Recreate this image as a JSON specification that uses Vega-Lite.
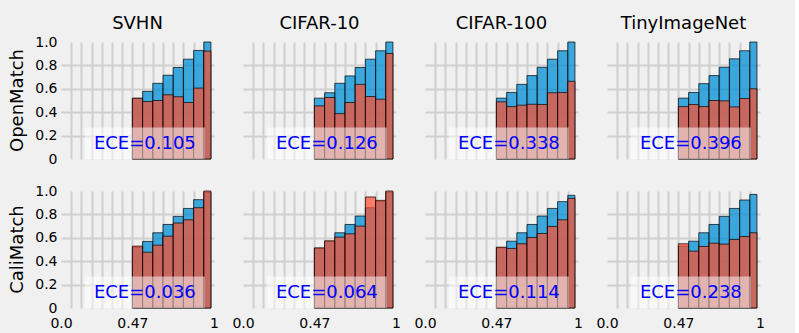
{
  "$schema": "https://vega.github.io/schema/vega-lite/v6.json",
  "background": "#f0f0f0",
  "padding": {"left": 8, "top": 15, "right": 30, "bottom": 3},
  "data": {"values": [
    {"method": "OpenMatch", "dataset": "SVHN", "x0": 0.4667, "x1": 0.5333, "conf": 0.518, "acc": 0.52, "ece": "ECE=0.105"},
    {"method": "OpenMatch", "dataset": "SVHN", "x0": 0.5333, "x1": 0.6, "conf": 0.578, "acc": 0.491},
    {"method": "OpenMatch", "dataset": "SVHN", "x0": 0.6, "x1": 0.6667, "conf": 0.647, "acc": 0.5},
    {"method": "OpenMatch", "dataset": "SVHN", "x0": 0.6667, "x1": 0.7333, "conf": 0.716, "acc": 0.549},
    {"method": "OpenMatch", "dataset": "SVHN", "x0": 0.7333, "x1": 0.8, "conf": 0.782, "acc": 0.532},
    {"method": "OpenMatch", "dataset": "SVHN", "x0": 0.8, "x1": 0.8667, "conf": 0.853, "acc": 0.483},
    {"method": "OpenMatch", "dataset": "SVHN", "x0": 0.8667, "x1": 0.9333, "conf": 0.928, "acc": 0.606},
    {"method": "OpenMatch", "dataset": "SVHN", "x0": 0.9333, "x1": 0.98, "conf": 1.0, "acc": 0.922},

    {"method": "OpenMatch", "dataset": "CIFAR-10", "x0": 0.4667, "x1": 0.5333, "conf": 0.52, "acc": 0.454, "ece": "ECE=0.126"},
    {"method": "OpenMatch", "dataset": "CIFAR-10", "x0": 0.5333, "x1": 0.6, "conf": 0.566, "acc": 0.526},
    {"method": "OpenMatch", "dataset": "CIFAR-10", "x0": 0.6, "x1": 0.6667, "conf": 0.647, "acc": 0.388},
    {"method": "OpenMatch", "dataset": "CIFAR-10", "x0": 0.6667, "x1": 0.7333, "conf": 0.71, "acc": 0.483},
    {"method": "OpenMatch", "dataset": "CIFAR-10", "x0": 0.7333, "x1": 0.8, "conf": 0.782, "acc": 0.638},
    {"method": "OpenMatch", "dataset": "CIFAR-10", "x0": 0.8, "x1": 0.8667, "conf": 0.853, "acc": 0.534},
    {"method": "OpenMatch", "dataset": "CIFAR-10", "x0": 0.8667, "x1": 0.9333, "conf": 0.925, "acc": 0.511},
    {"method": "OpenMatch", "dataset": "CIFAR-10", "x0": 0.9333, "x1": 0.98, "conf": 1.0, "acc": 0.902},

    {"method": "OpenMatch", "dataset": "CIFAR-100", "x0": 0.4667, "x1": 0.5333, "conf": 0.52, "acc": 0.489, "ece": "ECE=0.338"},
    {"method": "OpenMatch", "dataset": "CIFAR-100", "x0": 0.5333, "x1": 0.6, "conf": 0.569, "acc": 0.448},
    {"method": "OpenMatch", "dataset": "CIFAR-100", "x0": 0.6, "x1": 0.6667, "conf": 0.638, "acc": 0.46},
    {"method": "OpenMatch", "dataset": "CIFAR-100", "x0": 0.6667, "x1": 0.7333, "conf": 0.713, "acc": 0.468},
    {"method": "OpenMatch", "dataset": "CIFAR-100", "x0": 0.7333, "x1": 0.8, "conf": 0.784, "acc": 0.466},
    {"method": "OpenMatch", "dataset": "CIFAR-100", "x0": 0.8, "x1": 0.8667, "conf": 0.853, "acc": 0.566},
    {"method": "OpenMatch", "dataset": "CIFAR-100", "x0": 0.8667, "x1": 0.9333, "conf": 0.925, "acc": 0.569},
    {"method": "OpenMatch", "dataset": "CIFAR-100", "x0": 0.9333, "x1": 0.98, "conf": 1.0, "acc": 0.664},

    {"method": "OpenMatch", "dataset": "TinyImageNet", "x0": 0.4667, "x1": 0.5333, "conf": 0.52, "acc": 0.448, "ece": "ECE=0.396"},
    {"method": "OpenMatch", "dataset": "TinyImageNet", "x0": 0.5333, "x1": 0.6, "conf": 0.569, "acc": 0.466},
    {"method": "OpenMatch", "dataset": "TinyImageNet", "x0": 0.6, "x1": 0.6667, "conf": 0.644, "acc": 0.448},
    {"method": "OpenMatch", "dataset": "TinyImageNet", "x0": 0.6667, "x1": 0.7333, "conf": 0.713, "acc": 0.5},
    {"method": "OpenMatch", "dataset": "TinyImageNet", "x0": 0.7333, "x1": 0.8, "conf": 0.784, "acc": 0.497},
    {"method": "OpenMatch", "dataset": "TinyImageNet", "x0": 0.8, "x1": 0.8667, "conf": 0.856, "acc": 0.445},
    {"method": "OpenMatch", "dataset": "TinyImageNet", "x0": 0.8667, "x1": 0.9333, "conf": 0.925, "acc": 0.517},
    {"method": "OpenMatch", "dataset": "TinyImageNet", "x0": 0.9333, "x1": 0.98, "conf": 1.0, "acc": 0.6},

    {"method": "CaliMatch", "dataset": "SVHN", "x0": 0.4667, "x1": 0.5333, "conf": 0.52, "acc": 0.529, "ece": "ECE=0.036"},
    {"method": "CaliMatch", "dataset": "SVHN", "x0": 0.5333, "x1": 0.6, "conf": 0.569, "acc": 0.477},
    {"method": "CaliMatch", "dataset": "SVHN", "x0": 0.6, "x1": 0.6667, "conf": 0.643, "acc": 0.537},
    {"method": "CaliMatch", "dataset": "SVHN", "x0": 0.6667, "x1": 0.7333, "conf": 0.714, "acc": 0.614},
    {"method": "CaliMatch", "dataset": "SVHN", "x0": 0.7333, "x1": 0.8, "conf": 0.783, "acc": 0.726},
    {"method": "CaliMatch", "dataset": "SVHN", "x0": 0.8, "x1": 0.8667, "conf": 0.851, "acc": 0.754},
    {"method": "CaliMatch", "dataset": "SVHN", "x0": 0.8667, "x1": 0.9333, "conf": 0.926, "acc": 0.857},
    {"method": "CaliMatch", "dataset": "SVHN", "x0": 0.9333, "x1": 0.98, "conf": 0.99, "acc": 1.0},

    {"method": "CaliMatch", "dataset": "CIFAR-10", "x0": 0.4667, "x1": 0.5333, "conf": 0.51, "acc": 0.514, "ece": "ECE=0.064"},
    {"method": "CaliMatch", "dataset": "CIFAR-10", "x0": 0.5333, "x1": 0.6, "conf": 0.57, "acc": 0.574},
    {"method": "CaliMatch", "dataset": "CIFAR-10", "x0": 0.6, "x1": 0.6667, "conf": 0.643, "acc": 0.606},
    {"method": "CaliMatch", "dataset": "CIFAR-10", "x0": 0.6667, "x1": 0.7333, "conf": 0.714, "acc": 0.634},
    {"method": "CaliMatch", "dataset": "CIFAR-10", "x0": 0.7333, "x1": 0.8, "conf": 0.786, "acc": 0.7},
    {"method": "CaliMatch", "dataset": "CIFAR-10", "x0": 0.8, "x1": 0.8667, "conf": 0.857, "acc": 0.949},
    {"method": "CaliMatch", "dataset": "CIFAR-10", "x0": 0.8667, "x1": 0.9333, "conf": 0.91, "acc": 0.92},
    {"method": "CaliMatch", "dataset": "CIFAR-10", "x0": 0.9333, "x1": 0.98, "conf": 0.99, "acc": 1.0},

    {"method": "CaliMatch", "dataset": "CIFAR-100", "x0": 0.4667, "x1": 0.5333, "conf": 0.515, "acc": 0.52, "ece": "ECE=0.114"},
    {"method": "CaliMatch", "dataset": "CIFAR-100", "x0": 0.5333, "x1": 0.6, "conf": 0.571, "acc": 0.509},
    {"method": "CaliMatch", "dataset": "CIFAR-100", "x0": 0.6, "x1": 0.6667, "conf": 0.643, "acc": 0.549},
    {"method": "CaliMatch", "dataset": "CIFAR-100", "x0": 0.6667, "x1": 0.7333, "conf": 0.714, "acc": 0.603},
    {"method": "CaliMatch", "dataset": "CIFAR-100", "x0": 0.7333, "x1": 0.8, "conf": 0.786, "acc": 0.637},
    {"method": "CaliMatch", "dataset": "CIFAR-100", "x0": 0.8, "x1": 0.8667, "conf": 0.851, "acc": 0.697},
    {"method": "CaliMatch", "dataset": "CIFAR-100", "x0": 0.8667, "x1": 0.9333, "conf": 0.909, "acc": 0.754},
    {"method": "CaliMatch", "dataset": "CIFAR-100", "x0": 0.9333, "x1": 0.98, "conf": 0.963, "acc": 0.937},

    {"method": "CaliMatch", "dataset": "TinyImageNet", "x0": 0.4667, "x1": 0.5333, "conf": 0.529, "acc": 0.549, "ece": "ECE=0.238"},
    {"method": "CaliMatch", "dataset": "TinyImageNet", "x0": 0.5333, "x1": 0.6, "conf": 0.571, "acc": 0.486},
    {"method": "CaliMatch", "dataset": "TinyImageNet", "x0": 0.6, "x1": 0.6667, "conf": 0.643, "acc": 0.526},
    {"method": "CaliMatch", "dataset": "TinyImageNet", "x0": 0.6667, "x1": 0.7333, "conf": 0.714, "acc": 0.554},
    {"method": "CaliMatch", "dataset": "TinyImageNet", "x0": 0.7333, "x1": 0.8, "conf": 0.783, "acc": 0.546},
    {"method": "CaliMatch", "dataset": "TinyImageNet", "x0": 0.8, "x1": 0.8667, "conf": 0.851, "acc": 0.586},
    {"method": "CaliMatch", "dataset": "TinyImageNet", "x0": 0.8667, "x1": 0.9333, "conf": 0.923, "acc": 0.611},
    {"method": "CaliMatch", "dataset": "TinyImageNet", "x0": 0.9333, "x1": 0.98, "conf": 0.971, "acc": 0.643}
  ]},
  "facet": {
    "row": {"field": "method", "type": "nominal", "sort": ["OpenMatch", "CaliMatch"], "title": null,
      "header": {"labelFont": "DejaVu Sans", "labelFontSize": 18, "labelColor": "black", "labelPadding": 8}},
    "column": {"field": "dataset", "type": "nominal", "sort": ["SVHN", "CIFAR-10", "CIFAR-100", "TinyImageNet"], "title": null,
      "header": {"labelFont": "DejaVu Sans", "labelFontSize": 18, "labelColor": "black", "labelPadding": 8}}
  },
  "spacing": {"row": 30, "column": 29},
  "spec": {
    "width": 153,
    "height": 117,
    "layer": [
      {"mark": {"type": "rect", "fill": "#008fd5", "fillOpacity": 0.75, "stroke": "black", "strokeOpacity": 0.7, "strokeWidth": 1},
        "encoding": {
          "x": {"field": "x0", "type": "quantitative", "scale": {"domain": [0, 1]},
            "axis": {"title": null, "values": [0, 0.0667, 0.1333, 0.2, 0.2667, 0.3333, 0.4, 0.4667, 0.5333, 0.6, 0.6667, 0.7333, 0.8, 0.8667, 0.9333, 1],
              "labelExpr": "datum.value == 0 ? '0.0' : (datum.value == 0.4667 ? '0.47' : (datum.value == 1 ? '1' : ''))",
              "gridOpacity": {"condition": {"test": "datum.value <= 0 || datum.value >= 1", "value": 0}, "value": 1}}},
          "x2": {"field": "x1"},
          "y": {"field": "conf", "type": "quantitative", "scale": {"domain": [0, 1]},
            "axis": {"title": null, "values": [0, 0.2, 0.4, 0.6, 0.8, 1],
              "labelExpr": "datum.value == 0 ? '0' : format(datum.value, '.1f')",
              "gridOpacity": {"condition": {"test": "datum.value <= 0 || datum.value >= 1", "value": 0}, "value": 1}}},
          "y2": {"datum": 0}
        }},
      {"mark": {"type": "rect", "fill": "#fc4f30", "fillOpacity": 0.72, "stroke": "black", "strokeOpacity": 0.7, "strokeWidth": 1},
        "encoding": {
          "x": {"field": "x0", "type": "quantitative", "scale": {"domain": [0, 1]},
            "axis": {"title": null, "values": [0, 0.0667, 0.1333, 0.2, 0.2667, 0.3333, 0.4, 0.4667, 0.5333, 0.6, 0.6667, 0.7333, 0.8, 0.8667, 0.9333, 1],
              "labelExpr": "datum.value == 0 ? '0.0' : (datum.value == 0.4667 ? '0.47' : (datum.value == 1 ? '1' : ''))",
              "gridOpacity": {"condition": {"test": "datum.value <= 0 || datum.value >= 1", "value": 0}, "value": 1}}},
          "x2": {"field": "x1"},
          "y": {"field": "acc", "type": "quantitative", "scale": {"domain": [0, 1]},
            "axis": {"title": null, "values": [0, 0.2, 0.4, 0.6, 0.8, 1],
              "labelExpr": "datum.value == 0 ? '0' : format(datum.value, '.1f')",
              "gridOpacity": {"condition": {"test": "datum.value <= 0 || datum.value >= 1", "value": 0}, "value": 1}}},
          "y2": {"datum": 0}
        }},
      {"transform": [{"filter": "isValid(datum.ece)"}],
        "mark": {"type": "rect", "fill": "white", "fillOpacity": 0.5},
        "encoding": {
          "x": {"datum": 0.155, "type": "quantitative", "scale": {"domain": [0, 1]},
            "axis": {"title": null, "values": [0, 0.0667, 0.1333, 0.2, 0.2667, 0.3333, 0.4, 0.4667, 0.5333, 0.6, 0.6667, 0.7333, 0.8, 0.8667, 0.9333, 1],
              "labelExpr": "datum.value == 0 ? '0.0' : (datum.value == 0.4667 ? '0.47' : (datum.value == 1 ? '1' : ''))",
              "gridOpacity": {"condition": {"test": "datum.value <= 0 || datum.value >= 1", "value": 0}, "value": 1}}},
          "x2": {"datum": 0.94},
          "y": {"datum": 0, "type": "quantitative", "scale": {"domain": [0, 1]},
            "axis": {"title": null, "values": [0, 0.2, 0.4, 0.6, 0.8, 1],
              "labelExpr": "datum.value == 0 ? '0' : format(datum.value, '.1f')",
              "gridOpacity": {"condition": {"test": "datum.value <= 0 || datum.value >= 1", "value": 0}, "value": 1}}},
          "y2": {"datum": 0.27}
        }},
      {"transform": [{"filter": "isValid(datum.ece)"}],
        "mark": {"type": "text", "font": "DejaVu Sans", "fontSize": 18, "color": "#0000ff", "align": "center", "baseline": "middle"},
        "encoding": {
          "x": {"datum": 0.548, "type": "quantitative", "scale": {"domain": [0, 1]},
            "axis": {"title": null, "values": [0, 0.0667, 0.1333, 0.2, 0.2667, 0.3333, 0.4, 0.4667, 0.5333, 0.6, 0.6667, 0.7333, 0.8, 0.8667, 0.9333, 1],
              "labelExpr": "datum.value == 0 ? '0.0' : (datum.value == 0.4667 ? '0.47' : (datum.value == 1 ? '1' : ''))",
              "gridOpacity": {"condition": {"test": "datum.value <= 0 || datum.value >= 1", "value": 0}, "value": 1}}},
          "y": {"datum": 0.125, "type": "quantitative", "scale": {"domain": [0, 1]},
            "axis": {"title": null, "values": [0, 0.2, 0.4, 0.6, 0.8, 1],
              "labelExpr": "datum.value == 0 ? '0' : format(datum.value, '.1f')",
              "gridOpacity": {"condition": {"test": "datum.value <= 0 || datum.value >= 1", "value": 0}, "value": 1}}},
          "text": {"field": "ece"}
        }}
    ]
  },
  "config": {
    "view": {"stroke": null},
    "axis": {"domain": false, "ticks": false, "labelFont": "DejaVu Sans", "labelFontSize": 14, "labelColor": "black",
      "labelPadding": 4, "labelFlush": false, "labelOverlap": false, "gridColor": "#cfcfcf", "gridWidth": 2},
    "axisX": {"labelPadding": 7}
  }
}
